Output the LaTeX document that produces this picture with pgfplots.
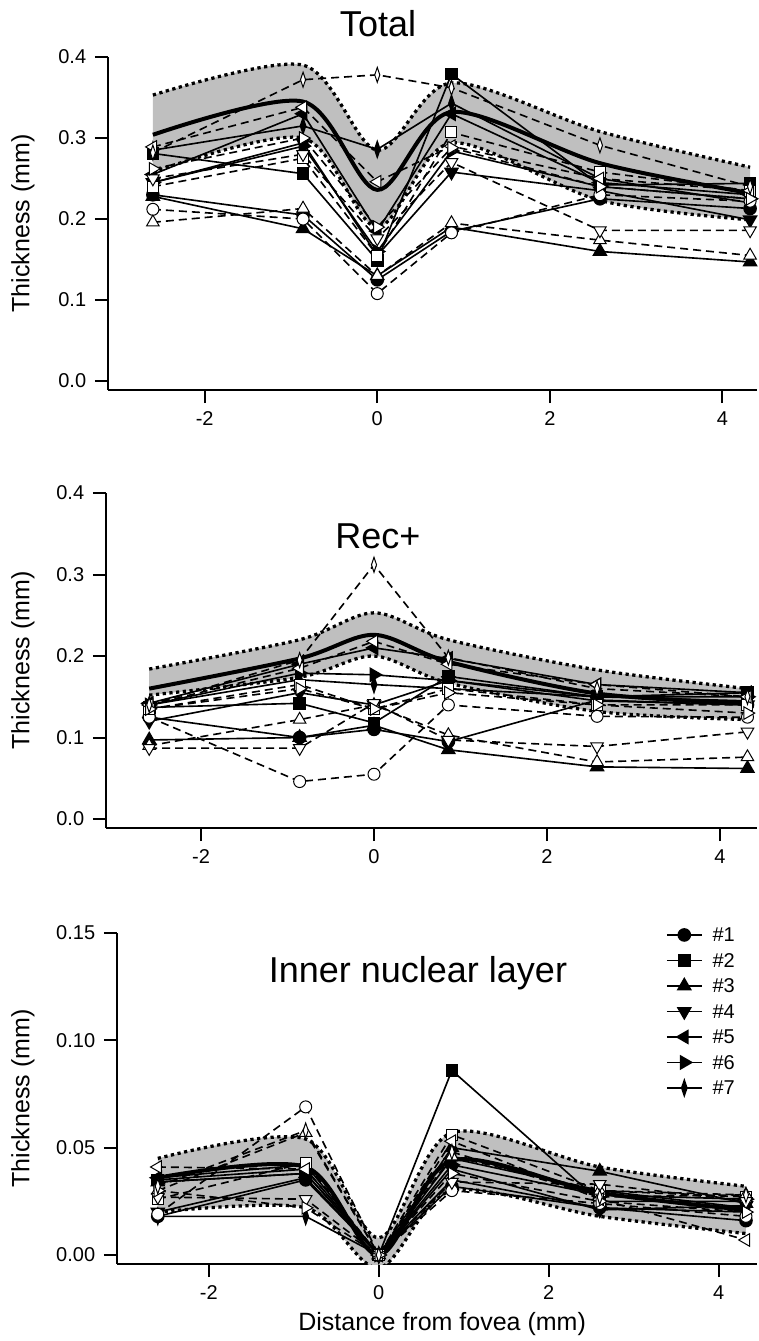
\documentclass[border=0pt]{standalone}
\usepackage{fontspec}
\setmainfont{Liberation Sans}
\usepackage{pgfplots}
\pgfplotsset{compat=1.18}
\usepackage{pgfplotstable}
\usepgfplotslibrary{fillbetween}

% columns: a = filled markers (solid), b = open markers (dashed), m = mean, up/lo = band
\pgfplotstableread{
x     a1    a2    a3    a4    a5    a6    a7    b1    b2    b3    b4    b5    b6    b7    m     up    lo
-2.6  0.230 0.281 0.228 0.245 0.255 0.245 0.285 0.212 0.240 0.196 0.250 0.289 0.262 0.282 0.304 0.353 0.258
-0.86 0.205 0.256 0.188 0.294 0.330 0.290 0.315 0.200 0.275 0.213 0.280 0.338 0.300 0.372 0.345 0.390 0.300
0     0.125 0.149 0.130 0.155 0.185 0.160 0.286 0.108 0.155 0.130 0.176 0.246 0.190 0.378 0.236 0.285 0.190
0.86  0.185 0.379 0.190 0.258 0.330 0.284 0.343 0.183 0.307 0.195 0.270 0.290 0.288 0.362 0.332 0.368 0.294
2.58  0.225 0.242 0.160 0.235 0.245 0.240 0.250 0.230 0.258 0.174 0.186 0.250 0.240 0.291 0.269 0.308 0.223
4.32  0.213 0.244 0.147 0.199 0.230 0.225 0.220 0.222 0.235 0.155 0.186 0.235 0.225 0.240 0.232 0.264 0.199
}\tot

\pgfplotstableread{
x     a1    a2    a3    a4    a5    a6    a7    b1    b2    b3    b4    b5    b6    b7    m     up    lo
-2.6  0.125 0.137 0.097 0.120 0.142 0.140 0.140 0.125 0.135 0.090 0.087 0.140 0.135 0.140 0.160 0.184 0.152
-0.86 0.100 0.142 0.100 0.155 0.190 0.179 0.171 0.046 0.165 0.122 0.087 0.185 0.160 0.195 0.197 0.220 0.174
0     0.110 0.118 0.115 0.140 0.210 0.177 0.165 0.055 0.135 0.140 0.142 0.218 0.135 0.312 0.226 0.253 0.200
0.86  0.095 0.175 0.085 0.170 0.197 0.170 0.160 0.140 0.160 0.103 0.097 0.190 0.155 0.198 0.193 0.220 0.167
2.58  0.146 0.150 0.064 0.145 0.165 0.150 0.150 0.126 0.140 0.070 0.089 0.165 0.140 0.160 0.154 0.183 0.132
4.32  0.140 0.155 0.062 0.140 0.155 0.150 0.145 0.125 0.140 0.076 0.107 0.150 0.130 0.150 0.142 0.160 0.122
}\rec

\pgfplotstableread{
x     a1    a2    a3    a4    a5    a6    a7    b1    b2    b3    b4    b5    b6    b7    m     up    lo
-2.6  0.018 0.035 0.034 0.020 0.036 0.034 0.018 0.019 0.026 0.030 0.027 0.041 0.030 0.032 0.036 0.045 0.020
-0.86 0.035 0.040 0.038 0.036 0.042 0.038 0.018 0.069 0.043 0.057 0.026 0.040 0.022 0.058 0.041 0.054 0.022
0     0     0     0     0     0     0     0     0     0     0     0     0     0     0     0     0.008 -0.006
0.86  0.032 0.086 0.050 0.040 0.045 0.042 0.035 0.030 0.056 0.046 0.034 0.053 0.038 0.048 0.044 0.057 0.030
2.6   0.022 0.025 0.039 0.021 0.030 0.028 0.022 0.024 0.030 0.030 0.033 0.026 0.025 0.027 0.029 0.041 0.018
4.32  0.016 0.025 0.024 0.023 0.022 0.026 0.020 0.018 0.027 0.028 0.025 0.007 0.020 0.028 0.021 0.032 0.010
}\inl

\pgfplotsset{
  common/.style={
    scale only axis, anchor=south west,
    axis x line*=bottom, axis y line*=left,
    axis line style={line width=0.8pt,-},
    tick align=outside, major tick length=5.2pt,
    tick style={line width=0.8pt,black},
    xtick={-2,0,2,4}, xticklabels={-2,0,2,4},
    tick label style={font=\fontsize{8}{9}\selectfont},
    label style={font=\fontsize{9.6}{11}\selectfont},
    ylabel={Thickness (mm)},
  },
  subj/.style={black, solid, line width=0.65pt, mark size=2.4pt,
    every mark/.append style={solid, fill=black}},
  opn/.style={black, line width=0.65pt, dash pattern=on 3.2pt off 2pt, mark size=2.4pt,
    every mark/.append style={solid, fill=white, line width=0.4pt}},
  m1/.style={mark=*},
  m2/.style={mark=square*, mark size=2.2pt},
  m3/.style={mark=triangle*, mark size=2.9pt},
  m4/.style={mark=triangle*, mark size=2.9pt, every mark/.append style={rotate=180}},
  m5/.style={mark=triangle*, mark size=2.9pt, every mark/.append style={rotate=90}},
  m6/.style={mark=triangle*, mark size=2.9pt, every mark/.append style={rotate=-90}},
  m7/.style={mark=diamond*, mark size=3pt, every mark/.append style={xscale=0.45}},
  bnd/.style={black, smooth, tension=0.5, line width=1.3pt, dash pattern=on 1.3pt off 1.4pt, line cap=butt},
}

\newcommand\drawband[2]{%
  \addplot[name path=up#2, smooth, tension=0.5, draw=none, forget plot] table[y=up]{#1};
  \addplot[name path=lo#2, smooth, tension=0.5, draw=none, forget plot] table[y=lo]{#1};
  \addplot[black!25, forget plot] fill between[of=up#2 and lo#2];
}
\newcommand\drawsubj[1]{%
  \addplot[subj,m1] table[y=a1]{#1};
  \addplot[subj,m2] table[y=a2]{#1};
  \addplot[subj,m3] table[y=a3]{#1};
  \addplot[subj,m4] table[y=a4]{#1};
  \addplot[subj,m5] table[y=a5]{#1};
  \addplot[subj,m6] table[y=a6]{#1};
  \addplot[subj,m7] table[y=a7]{#1};
  \addplot[opn,m1,forget plot] table[y=b1]{#1};
  \addplot[opn,m2,forget plot] table[y=b2]{#1};
  \addplot[opn,m3,forget plot] table[y=b3]{#1};
  \addplot[opn,m4,forget plot] table[y=b4]{#1};
  \addplot[opn,m5,forget plot] table[y=b5]{#1};
  \addplot[opn,m6,forget plot] table[y=b6]{#1};
  \addplot[opn,m7,forget plot] table[y=b7]{#1};
}
\newcommand\drawmean[1]{%
  \addplot[bnd, forget plot] table[y=up]{#1};
  \addplot[bnd, forget plot] table[y=lo]{#1};
  \addplot[black, line width=1.6pt, smooth, tension=0.5, forget plot] table[y=m]{#1};
}

\begin{document}
\begin{tikzpicture}

\begin{axis}[common, at={(43.2pt,-156pt)}, width=259.6pt, height=133.2pt,
  xmin=-3.12, xmax=4.40, ymin=-0.011, ymax=0.4,
  ytick={0,0.1,0.2,0.3,0.4}, yticklabels={0.0,0.1,0.2,0.3,0.4},
  every axis y label/.style={at={(axis description cs:-0.131,0.5)}, rotate=90, anchor=center}]
\drawband{\tot}{a}
\drawsubj{\tot}
\drawmean{\tot}
\end{axis}

\begin{axis}[common, at={(42.4pt,-331.2pt)}, width=260.4pt, height=134pt,
  xmin=-3.10, xmax=4.43, ymin=-0.011, ymax=0.4,
  ytick={0,0.1,0.2,0.3,0.4}, yticklabels={0.0,0.1,0.2,0.3,0.4},
  every axis y label/.style={at={(axis description cs:-0.1275,0.5)}, rotate=90, anchor=center}]
\drawband{\rec}{b}
\drawsubj{\rec}
\drawmean{\rec}
\end{axis}

\begin{axis}[common, at={(46.8pt,-505.6pt)}, width=256pt, height=132.4pt,
  xmin=-3.08, xmax=4.45, ymin=-0.0042, ymax=0.15,
  ytick={0,0.05,0.1,0.15}, yticklabels={0.00,0.05,0.10,0.15},
  every axis y label/.style={at={(axis description cs:-0.147,0.5)}, rotate=90, anchor=center},
  xlabel={Distance from fovea (mm)},
  every axis x label/.style={at={(axis description cs:0.508,-0.18)}, anchor=center},
  legend style={at={(0.857,1.024)}, anchor=north west, draw=none, fill=none,
    font=\fontsize{8}{9}\selectfont, row sep=2.7pt, inner sep=0pt,
    nodes={inner sep=0.5pt, text height=6pt, text depth=0.5pt},
    /tikz/every odd column/.style={column sep=3.5pt}},
  legend cell align=left,
  legend image code/.code={\draw[mark repeat=2,mark phase=2,#1] plot coordinates {(0pt,0pt) (7pt,0pt) (14pt,0pt)};}]
\drawband{\inl}{c}
\drawsubj{\inl}
\drawmean{\inl}
\legend{\#1,\#2,\#3,\#4,\#5,\#6,\#7}
\end{axis}

\node[font=\fontsize{14.4}{16}\selectfont, anchor=base] at (151.2pt,-14.4pt) {Total};
\node[font=\fontsize{14.4}{16}\selectfont, anchor=base] at (151.2pt,-219.2pt) {Rec+};
\node[font=\fontsize{14.4}{16}\selectfont, anchor=base] at (167.2pt,-392.8pt) {Inner nuclear layer};

\pgfresetboundingbox
\path[use as bounding box] (0,0) rectangle (303.2pt,-536.4pt);
\end{tikzpicture}
\end{document}
